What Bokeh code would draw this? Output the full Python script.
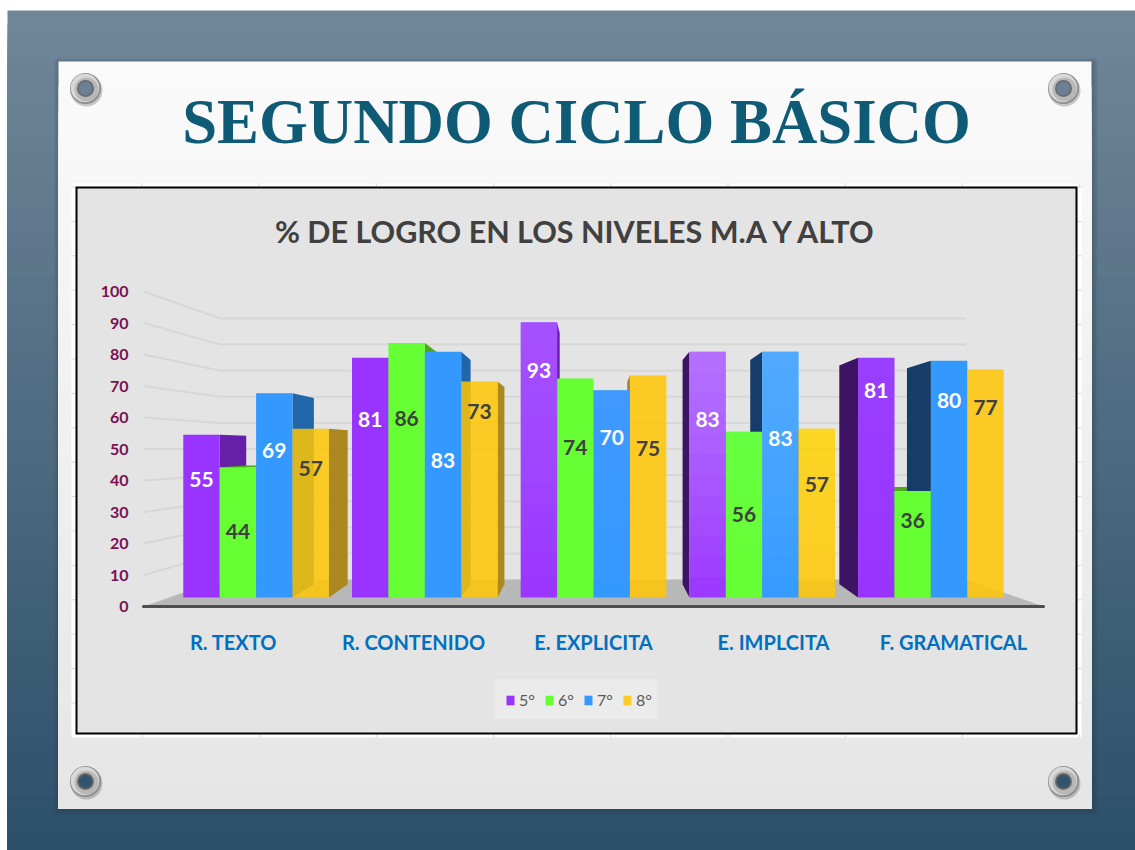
import numpy as np
from bokeh.embed import file_html
from bokeh.resources import INLINE
from bokeh.plotting import figure
from bokeh.core.properties import value
from bokeh.models import (Range1d, FixedTicker, LinearAxis, Legend, LegendItem, ColumnDataSource)

# ---------- data ----------
CATEGORIES = ["R. TEXTO", "R. CONTENIDO", "E. EXPLICITA", "E. IMPLCITA", "F. GRAMATICAL"]
SERIES_NAMES = ["5°", "6°", "7°", "8°"]
GRADE_5 = [55, 81, 93, 83, 81]
GRADE_6 = [44, 86, 74, 56, 36]
GRADE_7 = [69, 83, 70, 83, 80]
GRADE_8 = [57, 73, 75, 57, 77]
Y_TICKS = [0, 10, 20, 30, 40, 50, 60, 70, 80, 90, 100]
TITLE = "SEGUNDO CICLO BÁSICO"
CHART_TITLE = "% DE LOGRO EN LOS NIVELES M.A Y ALTO"

# ---------- styles / layout ----------
SERIES = [GRADE_5, GRADE_6, GRADE_7, GRADE_8]
FRONT = ["#9933ff", "#66ff33", "#3399ff", "#ffc602"]
FRONT_ALPHA = [1, 1, 1, 0.85]
SIDE_RIGHT = ["#661fa8", "#4ea81f", "#2166ab", "#ab8820"]
SIDE_LEFT = ["#3d1364", "#3a7d18", "#163d69", "#a8782a"]
LABEL_COLOR = ["#ffffff", "#404040", "#ffffff", "#404040"]
LABEL_DROP = [[45, 62, 48, 68, 33], [64, 76, 69, 83, 30], [57, 109, 47, 87, 40], [40, 30, 73, 56, 38]]
GLOW = [0, 0, 0.14, 0.28, 0.08]
GLOW_COLOR = ["#ffffff", "#8cff5c", "#9adcff", "#fff04a"]
FONT = "Lato"
SERIF = "Liberation Serif"
W, H = 1135, 850
L, R, B = 143, 1043, 606               # axis ends and axis baseline on the page
BAR_W = 0.2158
CX = 2.0                               # vanishing column
DX, DY, EYE = 0.929, 0.913, 51.0       # depth of the 3D bars
WALL_X, WALL_K, WALL_0 = 0.829, 0.8286, 8.57  # depth of the walls
U0, U1 = 2 + (0 - 593) / 168.7, 2 + (W - 593) / 168.7  # bar columns across the canvas

p = figure(width=W, height=H, output_backend="svg", toolbar_location=None,
           x_range=Range1d(0, W), y_range=Range1d(H, 0),
           x_axis_type=None, y_axis_type=None, min_border=0)
p.background_fill_color = None
p.border_fill_color = None
p.outline_line_color = None
p.extra_x_ranges["bars"] = Range1d(U0, U1)
p.extra_x_ranges["cats"] = Range1d((0 - L) / 180, (W - L) / 180)
p.extra_y_ranges["axis"] = Range1d((B - H) / 3.15, B / 3.15)
p.extra_y_ranges["front"] = Range1d((597 - H) / 2.96, 597 / 2.96)


def box(x0, y0, x1, y1, color, alpha=1.0):
    p.quad(left=x0, right=x1, top=y0, bottom=y1, fill_color=color, fill_alpha=alpha, line_color=None)


def disc(x, y, r, color, alpha=1.0):
    p.circle(x=[x], y=[y], radius=r, fill_color=color, fill_alpha=alpha, line_color=None)


def lerp(a, b, t):
    return "#%02x%02x%02x" % tuple(int(round(a[k] + (b[k] - a[k]) * t)) for k in range(3))


# ---------- slide background ----------
BG_TOP, BG_BOT = (112, 134, 153), (45, 80, 105)
N = 60
edges = np.linspace(10, 850, N + 1).round()
for k in range(N):
    box(7, edges[k], W, 850, lerp(BG_TOP, BG_BOT, k / (N - 1)))
for s in (6, 4, 2):
    box(58 - s + 2, 61 - s + 3, 1091 + s, 808 + s, "#1c2f3d", 0.10)
N = 30
edges = np.linspace(61, 808, N + 1).round()
for k in range(N):
    box(58, edges[k], 1091, 808, lerp((250, 250, 250), (230, 230, 230), k / (N - 1)))
box(71, 183, 1081, 737, "#ffffff")
for k in range(9):
    xk = 141 + 117.2 * k
    box(xk, 183, xk + 1, 186, "#d8d8d8")
    box(xk, 734, xk + 1, 737, "#d8d8d8")
for k in range(16):
    yk = 186 + 34.4 * k
    box(71, yk, 75, yk + 1, "#d8d8d8")
    box(1077, yk, 1081, yk + 1, "#d8d8d8")
box(75, 186, 1077, 734, "#000000")
box(77, 188, 1075, 732, "#e4e4e4")

# ---------- grommets ----------
for gx, gy in [(85, 88), (1063, 88), (85, 781), (1063, 781)]:
    hole = lerp(BG_TOP, BG_BOT, (gy - 10) / 840)
    disc(gx + 1, gy + 2, 16, "#333333", 0.25)
    disc(gx, gy, 15.5, "#8c8c8c")
    disc(gx - 0.5, gy - 0.5, 14.3, "#d8d8d8")
    disc(gx + 1, gy + 1, 12, "#b8b8b8")
    disc(gx, gy, 8.5, "#6a6a6a")
    disc(gx, gy, 6.8, hole)

# ---------- floor and walls ----------
ext_l = 2 + (L - 593) / 168.7
ext_r = 2 + (R - 593) / 168.7
back_l = CX + (ext_l - CX) * WALL_X
back_r = CX + (ext_r - CX) * WALL_X
p.patch([ext_l, ext_r, back_r, back_l], [0, 0, WALL_0, WALL_0], x_range_name="bars",
        y_range_name="axis", fill_color="#b8b8b8", line_color=None)
wall_xs, wall_ys = [], []
for v in Y_TICKS[1:]:
    yb = WALL_0 + WALL_K * v
    wall_xs.append([ext_l, back_l, back_r])
    wall_ys.append([v, yb, yb])
p.multi_line(wall_xs, wall_ys, x_range_name="bars", y_range_name="axis",
             line_color="#d7d7d7", line_width=2)

# ---------- 3D bars ----------
for j, vals in enumerate(SERIES):
    xs, ys, cols = [], [], []
    for i, v in enumerate(vals):
        left, right = i + (j - 2) * BAR_W, i + (j - 1) * BAR_W
        if right <= CX:
            e, col = right, SIDE_RIGHT[j]
        elif left >= CX:
            e, col = left, SIDE_LEFT[j]
        else:
            continue
        e2 = CX + (e - CX) * DX
        top2 = EYE + (v - EYE) * DY
        base2 = EYE + (0 - EYE) * DY
        xs.append([e, e, e2, e2])
        ys.append([0, v, top2, base2])
        cols.append(col)
        if v < EYE:
            l2, r2 = CX + (left - CX) * DX, CX + (right - CX) * DX
            xs.append([left, right, r2, l2])
            ys.append([v, v, top2, top2])
            cols.append(SIDE_RIGHT[j])
    p.patches(xs, ys, fill_color=cols, line_color=None, x_range_name="bars", y_range_name="front")

legend_items = []
for j, vals in enumerate(SERIES):
    src = ColumnDataSource(dict(x=[i + (j - 1.5) * BAR_W for i in range(len(vals))], top=vals))
    r = p.vbar(x="x", top="top", bottom=0, width=BAR_W, source=src, fill_color=FRONT[j],
               fill_alpha=FRONT_ALPHA[j], line_color=None, x_range_name="bars", y_range_name="front")
    legend_items.append(LegendItem(label=SERIES_NAMES[j], renderers=[r]))
    # soft light falling from the top of the bar
    for i, v in enumerate(vals):
        if GLOW[i] == 0:
            continue
        n = 12
        sb = [v * k / n for k in range(n)]
        p.vbar(x=[i + (j - 1.5) * BAR_W] * n, bottom=sb, top=[v] * n, width=BAR_W,
               fill_color=GLOW_COLOR[j], fill_alpha=GLOW[i] / n * 1.3, line_color=None,
               x_range_name="bars", y_range_name="front")

for j, vals in enumerate(SERIES):
    src = ColumnDataSource(dict(x=[i + (j - 1.5) * BAR_W for i in range(len(vals))], y=vals,
                                text=[str(v) for v in vals], drop=LABEL_DROP[j]))
    p.text(x="x", y="y", text="text", y_offset="drop", source=src, x_range_name="bars",
           y_range_name="front", text_align="center", text_baseline="middle",
           text_color=LABEL_COLOR[j], text_font=value(FONT), text_font_style="bold",
           text_font_size="21px")

# ---------- axes ----------
cat_ticks = [k + 0.5 for k in range(len(CATEGORIES))]
ax = LinearAxis(x_range_name="cats", fixed_location=B, ticker=FixedTicker(ticks=cat_ticks),
                major_label_overrides={t: c for t, c in zip(cat_ticks, CATEGORIES)},
                bounds=(0, len(CATEGORIES)), axis_line_color="#4d4d4d", axis_line_width=3,
                axis_line_cap="round", major_tick_line_color=None, minor_tick_line_color=None,
                major_label_standoff=17, major_label_text_color="#0070c0", major_label_text_font=FONT,
                major_label_text_font_style="bold", major_label_text_font_size="20px")
p.add_layout(ax, "below")
ay = LinearAxis(y_range_name="axis", fixed_location=L, ticker=FixedTicker(ticks=Y_TICKS),
                axis_line_color=None, major_tick_line_color=None, minor_tick_line_color=None,
                major_label_standoff=9, major_label_text_color="#7a104f", major_label_text_font=FONT,
                major_label_text_font_style="bold", major_label_text_font_size="16px")
p.add_layout(ay, "left")

# ---------- legend ----------
box(494, 679, 657, 718, "#ebebeb")
legend = Legend(items=legend_items, orientation="horizontal", location=(505, H - 709),
                background_fill_color=None, border_line_color=None,
                glyph_width=10, glyph_height=12, label_text_font=FONT, label_text_font_size="16px",
                label_text_color="#595959", spacing=5, padding=0, margin=0, label_standoff=4)
p.add_layout(legend, "center")

# ---------- titles ----------
p.text(x=[576], y=[121], text=[TITLE], text_align="center", text_baseline="middle",
       text_color="#0f5a75", text_font=value(SERIF), text_font_style="bold", text_font_size="62.8px")
p.text(x=[576], y=[230], text=[CHART_TITLE], text_align="center", text_baseline="middle",
       text_color="#404040", text_font=value(FONT), text_font_style="bold", text_font_size="30.5px")

open("out.html", "w").write(file_html(p, INLINE))
